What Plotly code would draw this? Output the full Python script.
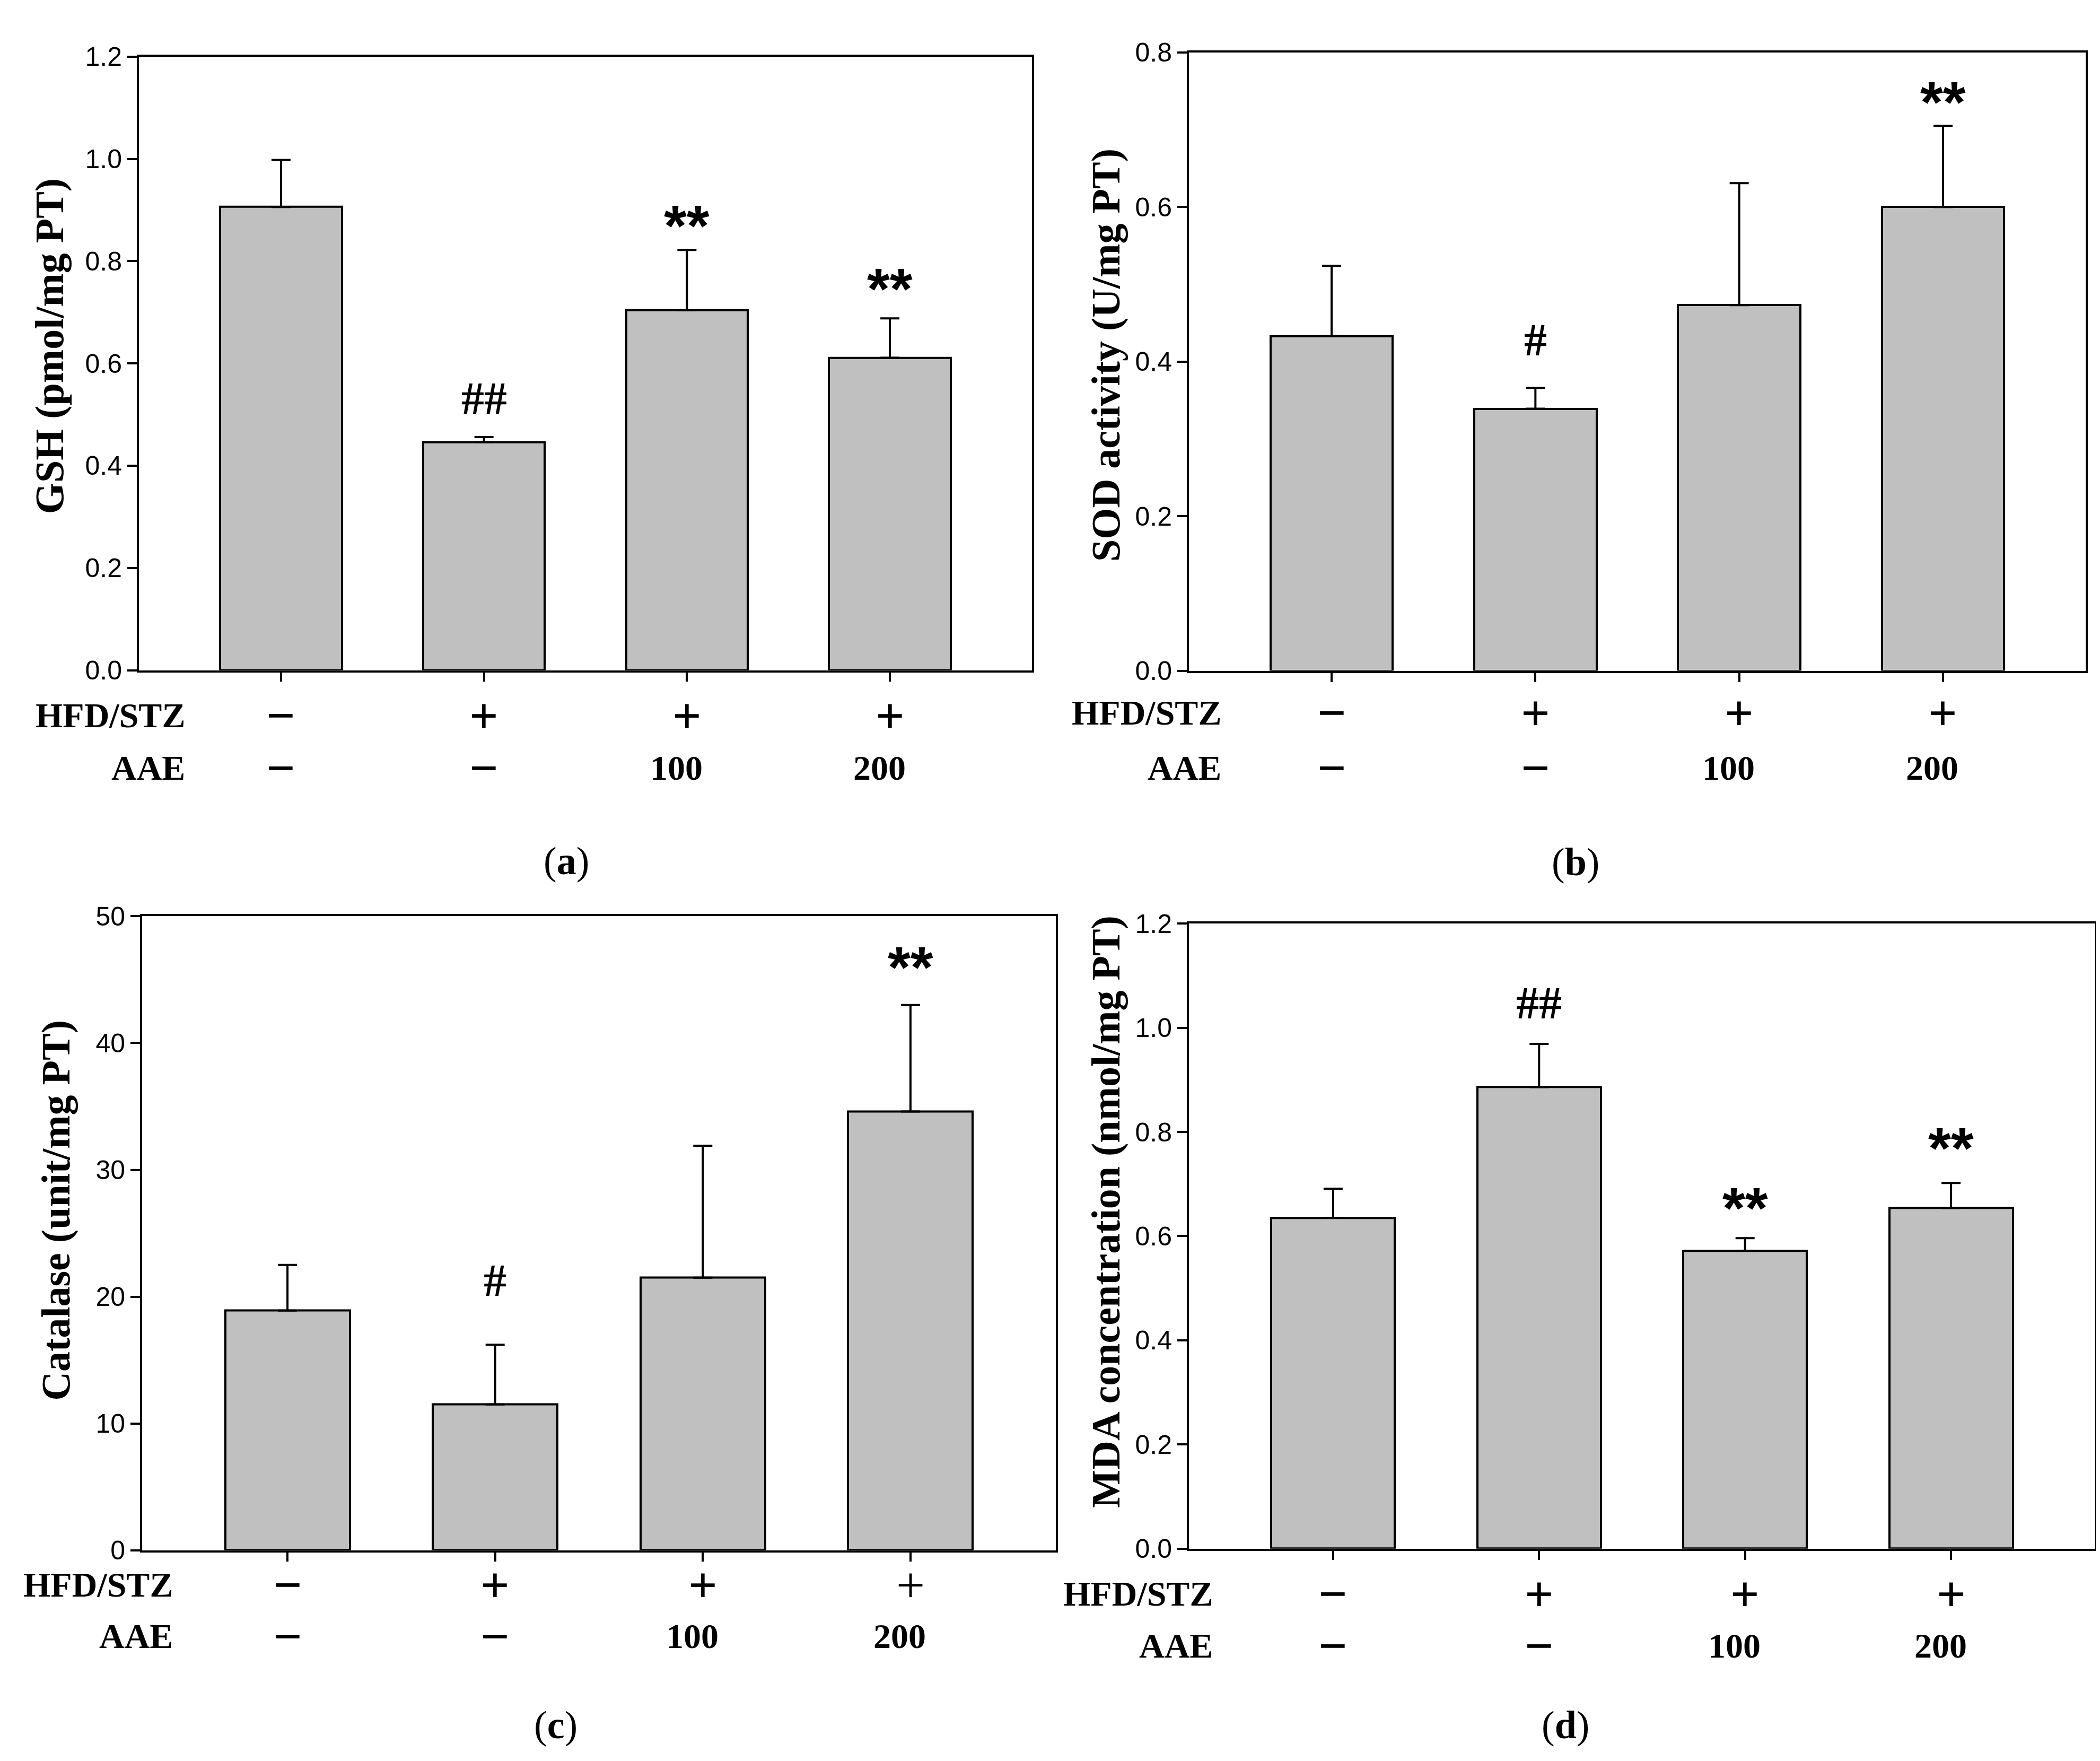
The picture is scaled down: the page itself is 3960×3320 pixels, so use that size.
import plotly.graph_objects as go

W, H = 3960, 3320

# groups and row labels under the bars
groups = [0, 1, 2, 3]
hfd_stz = ["\u2212", "+", "+", "+"]
aae = ["\u2212", "\u2212", "100", "200"]

# values (mean, upper SD)
gsh_mean = [0.906, 0.446, 0.704, 0.611]
gsh_err = [0.092, 0.010, 0.118, 0.077]
sod_mean = [0.433, 0.339, 0.473, 0.600]
sod_err = [0.091, 0.027, 0.158, 0.105]
cat_mean = [18.9, 11.5, 21.5, 34.6]
cat_err = [3.6, 4.7, 10.4, 8.4]
mda_mean = [0.635, 0.886, 0.572, 0.654]
mda_err = [0.056, 0.083, 0.024, 0.048]

# significance marks: (group index, text, gap above error bar in px)
gsh_marks = [(1, "##", 73), (2, "**", 47), (3, "**", 57)]
sod_marks = [(1, "#", 90), (3, "**", 46)]
cat_marks = [(1, "#", 121), (3, "**", 72)]
mda_marks = [(1, "##", 77), (2, "**", 58), (3, "**", 67)]


def fx(px):
    return px / W


def fy(py):
    return 1 - py / H


panels = [
    dict(letter="a", mean=gsh_mean, err=gsh_err, marks=gsh_marks,
         title="GSH (pmol/mg PT)", yrange=[0, 1.2], dtick=0.2, fmt=".1f",
         box=(254, 1938, 72, 1249), title_xy=(85, 628),
         row_x=343, row_y=(1335, 1436), letter_xy=(1060, 1615)),
    dict(letter="b", mean=sod_mean, err=sod_err, marks=sod_marks,
         title="SOD activity (U/mg PT)", yrange=[0, 0.8], dtick=0.2, fmt=".1f",
         box=(2234, 3925, 64, 1250), title_xy=(2078, 645),
         row_x=2297, row_y=(1330, 1436), letter_xy=(2963, 1617)),
    dict(letter="c", mean=cat_mean, err=cat_err, marks=cat_marks,
         title="Catalase (unit/mg PT)", yrange=[0, 50], dtick=10, fmt="d",
         box=(260, 1983, 1721, 2937), title_xy=(98, 2285),
         row_x=320, row_y=(3003, 3102), letter_xy=(1040, 3272)),
    dict(letter="d", mean=mda_mean, err=mda_err, marks=mda_marks,
         title="MDA concentration (nmol/mg PT)", yrange=[0, 1.2], dtick=0.2, fmt=".1f",
         box=(2234, 3943, 1735, 2934), title_xy=(2078, 2288),
         row_x=2281, row_y=(3020, 3120), letter_xy=(2944, 3272)),
]

serif = "Liberation Serif"
sans = "Liberation Sans"
narrow = "Liberation Sans Narrow, Liberation Sans"

fig = go.Figure()
annotations = []
layout_axes = {}

for i, p in enumerate(panels):
    n = "" if i == 0 else str(i + 1)
    xa, ya = "x" + n, "y" + n
    fig.add_trace(go.Bar(
        x=groups, y=p["mean"], width=0.6,
        marker=dict(color="#c0c0c0", line=dict(color="black", width=4)),
        error_y=dict(type="data", array=p["err"], arrayminus=[0] * 4,
                     symmetric=False, color="black", thickness=4, width=18),
        xaxis=xa, yaxis=ya, showlegend=False,
    ))

    l, r, t, b = p["box"]
    layout_axes["xaxis" + n] = dict(
        domain=[fx(l), fx(r)], range=[-0.7, 3.7], anchor=ya,
        tickvals=groups, showticklabels=False, ticks="outside",
        ticklen=17, tickwidth=4, tickcolor="black",
        showline=True, linecolor="black", linewidth=4, mirror=True,
        showgrid=False, zeroline=False,
    )
    layout_axes["yaxis" + n] = dict(
        domain=[fy(b), fy(t)], range=p["yrange"], anchor=xa,
        dtick=p["dtick"], tick0=0, tickformat=p["fmt"], ticks="outside",
        ticklen=18, tickwidth=4, tickcolor="black",
        tickfont=dict(family=narrow, size=50, color="black"),
        showline=True, linecolor="black", linewidth=4, mirror=True,
        showgrid=False, zeroline=False,
    )

    # y-axis title
    annotations.append(dict(
        text="<b>" + p["title"] + "</b>", textangle=-90,
        x=fx(p["title_xy"][0]), y=fy(p["title_xy"][1]),
        xref="paper", yref="paper", showarrow=False,
        xanchor="center", yanchor="middle",
        font=dict(family=serif, size=76, color="black"),
    ))

    # row names
    for name, py in zip(["HFD/STZ", "AAE"], p["row_y"]):
        annotations.append(dict(
            text="<b>" + name + "</b>", x=fx(p["row_x"]), y=fy(py),
            xref="paper", yref="paper", showarrow=False,
            xanchor="right", yanchor="middle",
            font=dict(family=serif, size=66, color="black"),
        ))

    # +/- and dose labels
    for row, py in zip([hfd_stz, aae], p["row_y"]):
        for g, lab in zip(groups, row):
            is_sym = lab in ("+", "\u2212")
            txt = lab
            if not (p["letter"] == "c" and row is hfd_stz and g == 3):
                txt = "<b>" + lab + "</b>"
            annotations.append(dict(
                text=txt, x=g, y=fy(py), xref=xa, yref="paper",
                showarrow=False, xanchor="center", yanchor="middle",
                xshift=0 if is_sym else -20,
                font=dict(family=serif, size=96 if is_sym else 66, color="black"),
            ))

    # significance marks
    for g, txt, gap in p["marks"]:
        star = txt.startswith("*")
        annotations.append(dict(
            text="<b>" + txt + "</b>", x=g, y=p["mean"][g] + p["err"][g],
            xref=xa, yref=ya, showarrow=False,
            xanchor="center", yanchor="middle", yshift=gap,
            font=dict(family=sans if star else serif, size=110 if star else 86,
                      color="black"),
        ))

    # panel letter
    annotations.append(dict(
        text="(<b>" + p["letter"] + "</b>)",
        x=fx(p["letter_xy"][0]), y=fy(p["letter_xy"][1]),
        xref="paper", yref="paper", showarrow=False,
        xanchor="center", yanchor="middle",
        font=dict(family=serif, size=74, color="black"),
    ))

fig.update_layout(
    width=W, height=H,
    margin=dict(l=0, r=0, t=0, b=0),
    paper_bgcolor="white", plot_bgcolor="white",
    bargap=0, annotations=annotations,
    **layout_axes,
)

fig.write_html("out.html")
